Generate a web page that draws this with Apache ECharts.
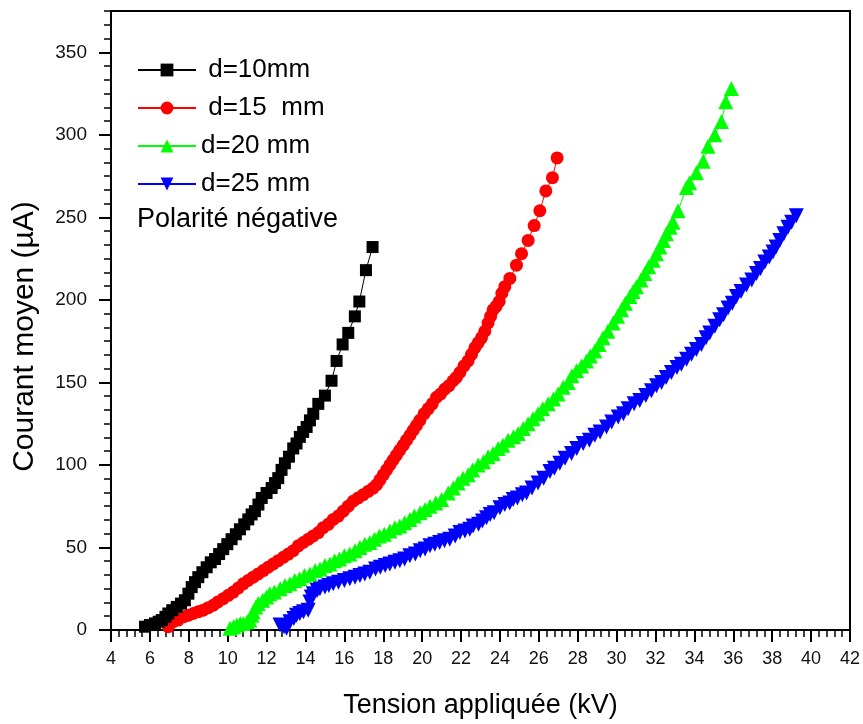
<!DOCTYPE html>
<html><head><meta charset="utf-8">
<script src="https://cdn.jsdelivr.net/npm/echarts@6/dist/echarts.min.js"></script>
<style>html,body{margin:0;padding:0;background:#fff}#c{width:863px;height:724px}</style>
</head><body><div id="c"></div>
<script>
// Series names (as in the legend of the reference)
const seriesNames = [' d=10mm', ' d=15  mm', 'd=20 mm', 'd=25 mm'];
const noteText = 'Polarité négative';
const xTitle = 'Tension appliquée (kV)';
const yTitle = 'Courant moyen (µA)';

// [voltage kV, current µA]
const d10 = [[5.75,2],[6.0,3],[6.26,4],[6.45,5],[6.61,6],[6.8,8],[6.95,10],[7.15,12],[7.38,14],[7.6,16],[7.8,18],[7.98,22],[8.15,26],[8.32,29],[8.49,32],[8.7,35],[8.92,38],[9.13,41],[9.35,43],[9.56,46],[9.77,49],[9.98,52],[10.2,55],[10.42,58],[10.63,61],[10.85,64],[11.06,67],[11.23,70],[11.4,72],[11.58,76],[11.75,80],[12.0,83],[12.26,86],[12.43,89],[12.6,92],[12.77,97],[12.94,101],[13.15,105],[13.37,110],[13.54,113],[13.71,117],[13.88,120],[14.06,123],[14.23,127],[14.4,131],[14.66,137],[15.0,142],[15.34,151],[15.6,163],[15.91,173],[16.2,180],[16.54,190],[16.77,199],[17.11,218],[17.45,232]];

const d15 = [[6.95,2],[7.2,5],[7.45,6],[7.72,8],[7.98,9],[8.23,10],[8.48,11],[8.74,12],[9.0,13.5],[9.26,15],[9.5,17],[9.77,19],[10.03,21],[10.29,23],[10.55,25.5],[10.8,28],[11.05,30],[11.31,32],[11.57,34],[11.83,36],[12.08,38],[12.34,40],[12.6,42],[12.86,44],[13.12,46],[13.37,48],[13.63,51],[13.89,53],[14.15,55],[14.4,57],[14.66,59],[14.91,62],[15.17,64],[15.43,67],[15.69,69],[15.94,72],[16.2,75],[16.45,78],[16.71,80],[16.97,82],[17.23,84],[17.48,86],[17.66,88],[17.83,91],[18.0,94],[18.17,97],[18.34,100],[18.51,103],[18.68,106],[18.85,109],[19.03,112],[19.2,115],[19.37,118],[19.54,121],[19.71,124],[19.88,127],[20.1,131],[20.31,134],[20.52,137],[20.74,141],[20.95,143],[21.17,146],[21.38,148],[21.59,151],[21.76,153],[21.94,156],[22.15,160],[22.36,163],[22.54,167],[22.71,171],[22.88,174],[23.05,177],[23.22,181],[23.39,186],[23.52,190],[23.65,194],[23.8,196],[23.96,199],[24.1,204],[24.25,208],[24.51,213],[24.85,221],[25.11,228],[25.45,236],[25.76,245],[26.05,254],[26.36,266],[26.7,274],[26.94,286]];

const d20 = [[10.12,1],[10.3,2],[10.46,3],[10.65,4],[10.8,4],[11.0,5],[11.14,6],[11.25,9],[11.31,11],[11.45,14],[11.57,16],[11.8,18],[12.0,20],[12.17,22],[12.4,23],[12.7,25],[12.95,27],[13.2,28],[13.45,30],[13.7,31],[13.95,33],[14.23,34],[14.5,36],[14.75,37],[15.0,39],[15.26,40],[15.5,42],[15.75,43],[16.0,45],[16.28,46],[16.55,48],[16.8,50],[17.05,52],[17.31,53],[17.55,55],[17.8,57],[18.05,58],[18.34,60],[18.6,62],[18.85,63],[19.1,65],[19.37,67],[19.6,69],[19.9,71],[20.15,73],[20.4,75],[20.7,77],[21.0,79],[21.34,83],[21.6,86],[21.85,89],[22.1,92],[22.37,94],[22.6,97],[22.88,100],[23.15,102],[23.39,105],[23.65,107],[23.91,110],[24.15,112],[24.42,115],[24.7,117],[24.94,119],[25.2,122],[25.45,125],[25.7,128],[25.96,131],[26.2,134],[26.48,137],[26.75,140],[26.99,143],[27.25,147],[27.51,150],[27.7,154],[27.94,157],[28.2,160],[28.45,163],[28.65,166],[28.88,169],[29.1,173],[29.3,177],[29.55,181],[29.82,186],[30.05,190],[30.25,194],[30.45,198],[30.68,202],[30.85,205],[31.02,208],[31.25,212],[31.45,216],[31.65,220],[31.88,224],[32.05,228],[32.22,232],[32.4,236],[32.56,240],[32.75,244],[32.9,247],[33.16,254],[33.59,268],[33.75,271],[34.1,277],[34.45,284],[34.7,293],[35.05,300],[35.39,308],[35.61,320],[35.9,328]];

const d25 = [[12.69,3],[12.9,2],[13.03,1],[13.2,5],[13.4,7],[13.54,9],[13.71,10],[13.9,11],[14.14,12],[14.23,17],[14.3,20],[14.4,22],[14.6,24],[14.74,25],[15.0,26],[15.2,27],[15.43,28],[15.7,29],[16.0,30],[16.28,31],[16.55,32],[16.8,33],[17.05,34],[17.31,35],[17.6,37],[17.85,38],[18.1,39],[18.34,40],[18.6,41],[18.85,42],[19.1,43],[19.37,45],[19.65,46],[19.9,48],[20.15,49],[20.4,51],[20.65,52],[20.9,53],[21.15,54],[21.42,55],[21.7,57],[21.94,59],[22.2,60],[22.45,61],[22.62,63],[22.9,64],[23.1,66],[23.31,68],[23.5,70],[23.7,71],[24.0,74],[24.25,76],[24.5,77],[24.68,79],[24.9,80],[25.15,82],[25.37,83],[25.65,86],[25.96,89],[26.25,92],[26.57,96],[26.8,98],[27.08,101],[27.35,104],[27.68,107],[27.95,110],[28.28,113],[28.6,115],[28.88,118],[29.15,120],[29.48,123],[29.75,126],[30.08,129],[30.35,131],[30.59,134],[30.9,137],[31.19,139],[31.5,142],[31.79,145],[32.05,148],[32.31,150],[32.55,153],[32.82,156],[33.1,159],[33.33,161],[33.6,164],[33.85,167],[34.1,170],[34.36,173],[34.6,177],[34.79,180],[35.05,184],[35.3,188],[35.5,191],[35.73,195],[35.95,198],[36.16,202],[36.4,205],[36.68,209],[36.95,212],[37.19,216],[37.4,219],[37.62,223],[37.85,226],[38.04,229],[38.2,232],[38.39,236],[38.6,240],[38.81,244],[39.0,247],[39.24,251]];

const FONT = 'Arial, "Liberation Sans", sans-serif';
const colors = ['#000000', '#ff0000', '#00ff00', '#0000ff'];
const symbols = ['rect', 'circle', 'triangle', 'path://M0,0 L10,0 L5,9 Z'];
const sizes = [12, 13, 15, 15];
const datasets = [d10, d15, d20, d25];

const chart = echarts.init(document.getElementById('c'), null, {renderer: 'canvas'});
const black = '#000';
const option = {
  animation: false,
  backgroundColor: '#fff',
  textStyle: {fontFamily: FONT},
  grid: {left: 111, right: 13, top: 11, bottom: 94, show: true, borderColor: black, borderWidth: 2, backgroundColor: 'transparent'},
  legend: {
    orient: 'vertical', left: 137, top: 55, padding: 0,
    itemWidth: 58, itemHeight: 16, itemGap: 8,
    textStyle: {fontSize: 26, color: black, lineHeight: 30, fontFamily: FONT},
    data: seriesNames
  },
  graphic: [{
    type: 'text', left: 137, top: 206,
    style: {text: noteText, font: '27px ' + FONT, fill: black}
  }],
  xAxis: {
    type: 'value', min: 4, max: 42, interval: 2,
    name: xTitle, nameLocation: 'middle', nameGap: 62,
    nameTextStyle: {fontSize: 27, color: black, fontFamily: FONT},
    axisLine: {lineStyle: {color: black, width: 2}},
    axisTick: {length: 12, lineStyle: {color: black, width: 2}},
    minorTick: {show: true, splitNumber: 5, length: 7, lineStyle: {color: black, width: 1.5}},
    axisLabel: {fontSize: 18, color: '#111', margin: 20, fontFamily: FONT},
    splitLine: {show: false}, minorSplitLine: {show: false}
  },
  yAxis: [{
    type: 'value', min: 0, max: 375, interval: 50, position: 'left',
    name: yTitle, nameLocation: 'middle', nameGap: 71,
    nameTextStyle: {fontSize: 30, color: black, fontFamily: FONT, padding: [0, 32, 0, 0]},
    axisLine: {lineStyle: {color: black, width: 2}},
    axisTick: {length: 12, lineStyle: {color: black, width: 2}},
    axisLabel: {fontSize: 19, color: '#111', margin: 24, showMaxLabel: false, fontFamily: FONT},
    splitLine: {show: false}
  }, {
    type: 'value', min: 0, max: 375, interval: 25 / 3, position: 'left', offset: 0,
    axisLine: {show: false},
    axisTick: {length: 7, lineStyle: {color: black, width: 1.5}},
    axisLabel: {show: false},
    splitLine: {show: false}
  }],
  series: datasets.map((d, i) => ({
    name: seriesNames[i],
    type: 'line',
    data: d,
    yAxisIndex: 0,
    symbol: symbols[i],
    symbolSize: sizes[i],
    showAllSymbol: true,
    lineStyle: {color: colors[i], width: 1},
    itemStyle: {color: colors[i], borderWidth: 0},
    emphasis: {disabled: true},
    z: 10 - i
  }))
};
chart.setOption(option);
</script>
</body></html>
